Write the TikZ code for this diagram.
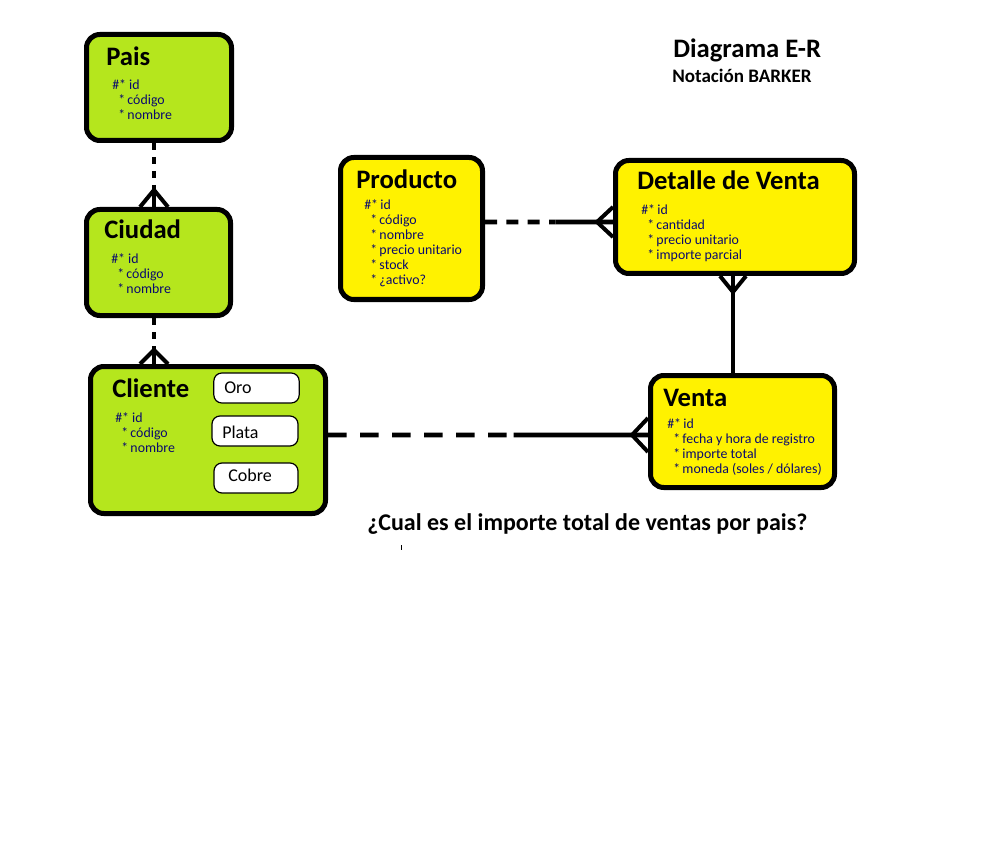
\documentclass[tikz,border=0pt]{standalone}
\usepackage{fontspec}
\setmainfont{Carlito}
\usetikzlibrary{calc}
\definecolor{entgreen}{RGB}{181,230,29}
\definecolor{entyellow}{RGB}{255,242,0}
\definecolor{attrblue}{RGB}{10,10,110}
\tikzset{
  entity/.style={draw=black, line width=3.75pt, rounded corners=10pt, inner sep=0pt},
  subtype/.style={draw=black, fill=white, line width=0.9pt, rounded corners=6pt, inner sep=0pt,
    minimum height=22.5pt},
  ttl/.style={anchor=base west, inner sep=0pt, font=\fontsize{20}{22}\selectfont\bfseries},
  attr/.style={anchor=base west, inner sep=0pt, text=attrblue, font=\fontsize{10.4}{12}\selectfont},
  subtxt/.style={anchor=west, inner sep=0pt, font=\fontsize{13.5}{15}\selectfont},
  conn/.style={line width=3.6pt},
  crow/.style={line width=3pt},
  dashA/.style={conn, dash pattern=on 5.5pt off 5pt},
  dashB/.style={conn, dash pattern=on 9pt off 7pt},
  dashC/.style={conn, dash pattern=on 14pt off 10pt},
}
\begin{document}
\begin{tikzpicture}[x=0.75pt, y=-0.75pt]
\useasboundingbox (0,0) rectangle (992,852);

% entities
\node[entity, fill=entgreen, minimum width=108.75pt, minimum height=79.5pt] (pais) at (159,87.5) {};
\node[entity, fill=entgreen, minimum width=108pt, minimum height=79.5pt] (ciudad) at (158.5,262.5) {};
\node[entity, fill=entgreen, minimum width=176.25pt, minimum height=110.25pt] (cliente) at (208,440) {};
\node[entity, fill=entyellow, minimum width=106.5pt, minimum height=106.5pt] (producto) at (411.5,228.5) {};
\node[entity, fill=entyellow, minimum width=179.25pt, minimum height=84.75pt] (detalle) at (735,217) {};
\node[entity, fill=entyellow, minimum width=138pt, minimum height=84pt] (venta) at (742.5,431.5) {};

% subtypes
\node[subtype, minimum width=64pt] (oro) at (256.5,388) {};
\node[subtype, minimum width=64.5pt] (plata) at (255,431) {};
\node[subtype, minimum width=63pt] (cobre) at (256,478) {};
\node[subtxt] (toro) at (224,388) {Oro};
\node[subtxt] (tplata) at (222,432) {Plata};
\node[subtxt] (tcobre) at (228,475) {Cobre};

% titles
\node[ttl] (tpais) at (106,66) {Pais};
\node[ttl] (tciudad) at (104,239) {Ciudad};
\node[ttl] (tcliente) at (112,397) {Cliente};
\node[ttl] (tproducto) at (356,189) {Producto};
\node[ttl] (tdetalle) at (637,190) {Detalle de Venta};
\node[ttl] (tventa) at (663,406) {Venta};

% attributes
\node[attr] (pa0) at (112,90) {\#* id};
\foreach [count=\i] \t in {código, nombre}
  \node[attr] (pa\i) at (118,{90+15*\i}) {*\,\t};
\node[attr] (ca0) at (111,264) {\#* id};
\foreach [count=\i] \t in {código, nombre}
  \node[attr] (ca\i) at (117,{264+15*\i}) {*\,\t};
\node[attr] (cla0) at (115,422) {\#* id};
\foreach [count=\i] \t in {código, nombre}
  \node[attr] (cla\i) at (121,{422+15*\i}) {*\,\t};
\node[attr] (pra0) at (364,210) {\#*\,id};
\foreach [count=\i] \t in {código, nombre, precio unitario, stock, ¿activo?}
  \node[attr] (pra\i) at (370,{210+15*\i}) {*\,\t};
\node[attr] (da0) at (641,215) {\#*\,id};
\foreach [count=\i] \t in {cantidad, precio unitario, importe parcial}
  \node[attr] (da\i) at (647,{215+15*\i}) {*\,\t};
\node[attr] (va0) at (667,428) {\#*\,id};
\foreach [count=\i] \t in {fecha y hora de registro, importe total, moneda (soles / dólares)}
  \node[attr] (va\i) at (673,{428+15*\i}) {*\,\t};

% headings
\node[anchor=base west, inner sep=0pt, font=\fontsize{20}{22}\selectfont\bfseries] (titulo) at (673,58) {Diagrama E-R};
\node[anchor=base west, inner sep=0pt, font=\fontsize{14.3}{15}\selectfont\bfseries] (notacion) at (672,83) {Notación BARKER};
\node[anchor=base west, inner sep=0pt, font=\fontsize{18}{20}\selectfont\bfseries] (pregunta) at (367,530) {¿Cual es el importe total de ventas por pais?};

% Pais -- Ciudad
\coordinate (pc0) at ($(pais.south)+(-5,0)$);
\coordinate (pc1) at ($(ciudad.north)+(-4.5,-17)$);
\coordinate (pc2) at ($(ciudad.north)+(-4.5,0)$);
\draw[dashA] (pc0) -- (pc1);
\draw[conn] ($(pc1)+(0,-4)$) -- (pc2);
\draw[crow] ($(pc2)+(-14,0)$) -- (pc1) -- ($(pc2)+(14,0)$);

% Ciudad -- Cliente
\coordinate (cc0) at ($(ciudad.south)+(-4.5,0)$);
\coordinate (cc1) at ($(cliente.north west)+(66,-14)$);
\coordinate (cc2) at ($(cliente.north west)+(66,0)$);
\draw[dashA] (cc0) -- (cc1);
\draw[conn] ($(cc1)+(0,-3)$) -- (cc2);
\draw[crow] ($(cc2)+(-14,0)$) -- (cc1) -- ($(cc2)+(14,0)$);

% Producto -- Detalle de Venta
\coordinate (pd0) at ($(producto.east)+(0,-6.5)$);
\coordinate (pd2) at (detalle.west |- pd0);
\coordinate (pdm) at ($(pd0)!0.55!(pd2)$);
\coordinate (pd1) at ($(pd2)+(-16,0)$);
\draw[dashB] (pd0) -- (pdm);
\draw[conn] (pdm) -- (pd2);
\draw[crow] ($(pd2)+(0,-15)$) -- (pd1) -- ($(pd2)+(0,15)$);

% Detalle de Venta -- Venta
\coordinate (dv0) at ($(detalle.south)+(-2,0)$);
\coordinate (dv1) at ($(dv0)+(0,16)$);
\coordinate (dv2) at (venta.north -| dv0);
\draw[conn] (dv0) -- (dv2);
\draw[crow] ($(dv0)+(-13,0)$) -- (dv1) -- ($(dv0)+(13,0)$);

% Cliente -- Venta
\coordinate (cv2) at ($(venta.west)+(0,3.5)$);
\coordinate (cv0) at (cliente.east |- cv2);
\coordinate (cvm) at ($(cv0)!0.58!(cv2)$);
\coordinate (cv1) at ($(cv2)+(-16,0)$);
\draw[dashC] (cv0) -- (cvm);
\draw[conn] (cvm) -- (cv2);
\draw[crow] ($(cv2)+(0,-17)$) -- (cv1) -- ($(cv2)+(0,17)$);

% small mark
\fill[black] (400.5,545) rectangle (402,550);
\end{tikzpicture}
\end{document}
